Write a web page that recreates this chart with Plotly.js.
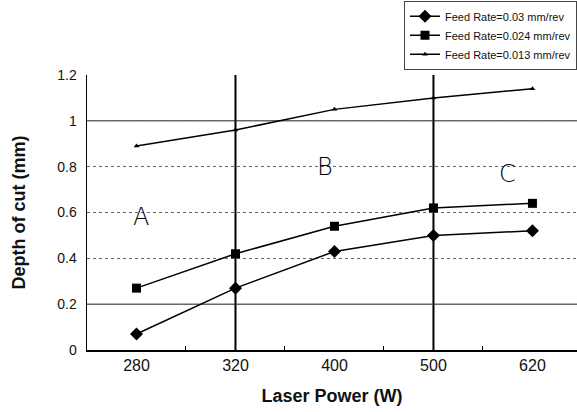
<!DOCTYPE html>
<html><head><meta charset="utf-8">
<script src="https://cdn.plot.ly/plotly-3.0.1.min.js"></script>
<style>html,body{margin:0;padding:0;background:#fff}#chart{width:577px;height:412px}</style>
</head><body><div id="chart"></div>
<script>
const laserPower = ['280','320','400','500','620'];
const depth003 = [0.07, 0.27, 0.43, 0.50, 0.52];
const depth0024 = [0.27, 0.42, 0.54, 0.62, 0.64];
const depth0013 = [0.89, 0.96, 1.05, 1.10, 1.14];
const seriesNames = ['Feed Rate=0.03 mm/rev','Feed Rate=0.024 mm/rev','Feed Rate=0.013 mm/rev'];
const regionBoundaries = ['320','500'];
const regionLabels = [{t:'A', x:0.05, y:0.58},{t:'B', x:1.9, y:0.80},{t:'C', x:3.75, y:0.77}];
const solidGrid = [1.0, 0.2];

const line = {color:'#000', width:1.5};
const traces = [
  {x:laserPower, y:depth003, name:seriesNames[0], mode:'lines+markers', line:line, marker:{symbol:'diamond', size:10, color:'#000'}},
  {x:laserPower, y:depth0024, name:seriesNames[1], mode:'lines+markers', line:line, marker:{symbol:'square', size:9, color:'#000'}},
  {x:laserPower, y:depth0013, name:seriesNames[2], mode:'lines+markers', line:line, marker:{symbol:'triangle-up', size:5, color:'#000'}}
];
const shapes = [];
regionBoundaries.forEach(b => shapes.push({type:'line', xref:'x', yref:'paper', x0:laserPower.indexOf(b), x1:laserPower.indexOf(b), y0:0, y1:1, line:{color:'#000', width:2}, layer:'below'}));
solidGrid.forEach(v => shapes.push({type:'line', xref:'paper', yref:'y', x0:0, x1:1, y0:v, y1:v, line:{color:'#222', width:1}, layer:'below'}));
const annotations = regionLabels.map(r => ({x:r.x, y:r.y, xref:'x', yref:'y', text:r.t, showarrow:false, font:{family:'DejaVu Sans', weight:300, size:24, color:'#000'}}));

const layout = {
  width:577, height:412,
  margin:{l:87, r:0, t:75, b:62},
  paper_bgcolor:'#fff', plot_bgcolor:'#fff',
  font:{family:'Liberation Sans, Arial, sans-serif', color:'#111'},
  showlegend:true,
  legend:{x:1, xanchor:'right', y:1.27, yanchor:'top', bgcolor:'#fff', bordercolor:'#444', borderwidth:1, font:{size:11, color:'#111'}, tracegroupgap:0, itemwidth:30},
  xaxis:{type:'category', range:[-0.5,4.45], showgrid:false, zeroline:false, showline:true, linecolor:'#000', linewidth:1.5,
    ticks:'inside', tickson:'boundaries', ticklen:4, tickcolor:'#000', tickfont:{size:16}, fixedrange:true,
    title:{text:'Laser Power (W)', font:{size:18, weight:'bold', family:'Liberation Sans, Arial, sans-serif'}, standoff:16}},
  yaxis:{range:[0,1.2], dtick:0.2, showgrid:true, gridcolor:'#666', griddash:'dot', gridwidth:1, zeroline:false, showline:true, linecolor:'#000', linewidth:1.5,
    ticks:'', tickfont:{size:14}, ticklabelstandoff:6,
    title:{text:'Depth of cut (mm)', font:{size:18, weight:'bold', family:'Liberation Sans, Arial, sans-serif'}, standoff:27}},
  shapes:shapes, annotations:annotations
};
Plotly.newPlot('chart', traces, layout, {staticPlot:true, displayModeBar:false});
</script></body></html>
